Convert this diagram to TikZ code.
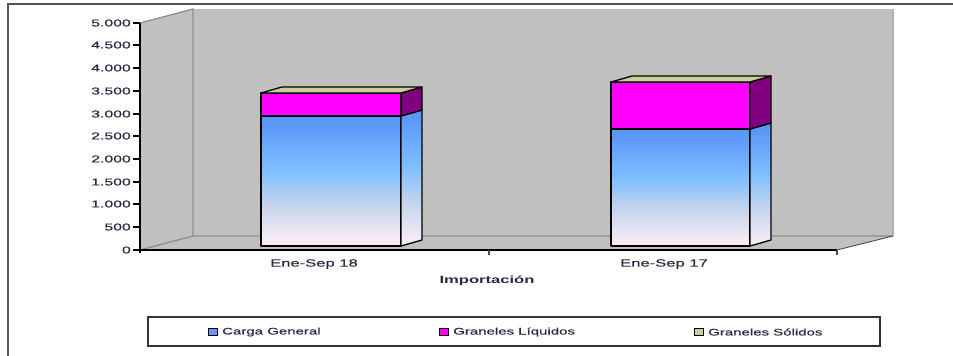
\documentclass[tikz,border=0pt]{standalone}
\usepackage{fontspec}
\setmainfont{Liberation Sans}
\newfontfamily\heavyfont[FakeBold=0.35]{Liberation Sans}
\definecolor{wallgray}{HTML}{C0C0C0}
\definecolor{edgegray}{HTML}{8E8E8E}
\definecolor{frame}{HTML}{555555}
\definecolor{mag}{HTML}{FF00FF}
\definecolor{purp}{HTML}{800080}
\definecolor{khaki}{HTML}{CCCC9C}
\definecolor{txt}{HTML}{2A2A44}
\definecolor{ctop}{HTML}{5A98F8}
\definecolor{cmid}{HTML}{80BFFF}
\definecolor{clow}{HTML}{C8D6EC}
\definecolor{cbot}{HTML}{FFEEF8}
\definecolor{legblue}{HTML}{6699FF}
\pgfdeclareverticalshading{cargashade}{100bp}{color(0bp)=(cbot); color(25bp)=(cbot); color(40bp)=(clow); color(54bp)=(cmid); color(72bp)=(ctop); color(100bp)=(ctop)}
\newcommand{\stretchtxt}[1]{\scalebox{1.58}[1]{#1}}
\tikzset{
  ticklbl/.style={anchor=east, inner sep=0pt, text=txt, font=\heavyfont\fontsize{10}{12}\selectfont},
  catlbl/.style={inner sep=0pt, text=txt, font=\heavyfont\fontsize{10.5}{12}\selectfont},
  titlelbl/.style={inner sep=0pt, text=txt, font=\fontsize{10.5}{12}\selectfont\bfseries},
  leglbl/.style={anchor=west, inner sep=0pt, text=txt, font=\heavyfont\fontsize{9.5}{12}\selectfont},
  legmark/.style={draw=black, line width=1.2pt, minimum width=9pt, minimum height=7pt, inner sep=0pt},
  barline/.style={draw=black, line width=1.3pt, line join=round},
  wall/.style={fill=wallgray},
  walledge/.style={draw=edgegray, line width=1.3pt},
}
\begin{document}
\begin{tikzpicture}[x=1pt,y=-1pt]
\useasboundingbox (0,0) rectangle (953,356);
% outer frame
\draw[frame, line width=2pt] (8,356) -- (8,4) -- (953,4);
% walls and floor
\fill[wall] (140,23) -- (193,9) -- (193,236) -- (140,250) -- cycle;
\fill[wall] (193,9) rectangle (893,236);
\fill[wall] (140,250) -- (193,236) -- (893,236) -- (837,250) -- cycle;
\draw[walledge] (140,23) -- (193,9) -- (193,236) -- (893,236);
\draw[walledge] (140,250) -- (193,236);
\draw[draw=edgegray!70, line width=1.3pt] (893,9) -- (893,236);
\draw[black!75, line width=0.8pt] (837,250) -- (893,236);
% axes
\draw[black, line width=1.5pt] (140,23) -- (140,253);
\draw[black, line width=1.5pt] (139,250) -- (837,250);
\foreach \v/\y in {0/250,1/227,2/204,3/182,4/159,5/136,6/114,7/91,8/68,9/45,10/23}
  \draw[black, line width=1.2pt] (133,\y) -- (140,\y);
\foreach \x in {489,837}
  \draw[black!70, line width=1.2pt] (\x,250) -- (\x,255);
% tick labels
\node[ticklbl] (t0) at (131,250) {\stretchtxt{0}};
\node[ticklbl] (t1) at (131,227) {\stretchtxt{500}};
\node[ticklbl] (t2) at (131,204) {\stretchtxt{1.000}};
\node[ticklbl] (t3) at (131,182) {\stretchtxt{1.500}};
\node[ticklbl] (t4) at (131,159) {\stretchtxt{2.000}};
\node[ticklbl] (t5) at (131,136) {\stretchtxt{2.500}};
\node[ticklbl] (t6) at (131,114) {\stretchtxt{3.000}};
\node[ticklbl] (t7) at (131,91) {\stretchtxt{3.500}};
\node[ticklbl] (t8) at (131,68) {\stretchtxt{4.000}};
\node[ticklbl] (t9) at (131,45) {\stretchtxt{4.500}};
\node[ticklbl] (t10) at (131,23) {\stretchtxt{5.000}};
% bar 1 (Ene-Sep 18)
\shadedraw[shading=cargashade, barline] (261,116) rectangle (401,246);
\shadedraw[shading=cargashade, barline] (401,116) -- (422,110) -- (422,240) -- (401,246) -- cycle;
\filldraw[fill=mag, barline] (261,93) rectangle (401,116);
\filldraw[fill=purp, barline] (401,93) -- (422,87) -- (422,110) -- (401,116) -- cycle;
\filldraw[fill=khaki, barline] (261,93) -- (282,87) -- (422,87) -- (401,93) -- cycle;
% bar 2 (Ene-Sep 17)
\shadedraw[shading=cargashade, barline] (611,129) rectangle (750,246);
\shadedraw[shading=cargashade, barline] (750,129) -- (771,123) -- (771,240) -- (750,246) -- cycle;
\filldraw[fill=mag, barline] (611,82) rectangle (750,129);
\filldraw[fill=purp, barline] (750,82) -- (771,76) -- (771,123) -- (750,129) -- cycle;
\filldraw[fill=khaki, barline] (611,82) -- (632,76) -- (771,76) -- (750,82) -- cycle;
% category labels and axis title
\node[catlbl] (c1) at (314,264) {\stretchtxt{Ene-Sep 18}};
\node[catlbl] (c2) at (664,264) {\stretchtxt{Ene-Sep 17}};
\node[titlelbl] (xt) at (487,281) {\stretchtxt{Importación}};
% legend
\draw[black!80, line width=1.5pt] (148,317) rectangle (880,346);
\node[legmark, fill=legblue] (m1) at (213,332) {};
\node[leglbl] (l1) at (222,332) {\stretchtxt{Carga General}};
\node[legmark, fill=mag] (m2) at (444,332) {};
\node[leglbl] (l2) at (453,332) {\stretchtxt{Graneles Líquidos}};
\node[legmark, fill=khaki] (m3) at (699,332) {};
\node[leglbl] (l3) at (708,332) {\stretchtxt{Graneles Sólidos}};
\end{tikzpicture}
\end{document}
